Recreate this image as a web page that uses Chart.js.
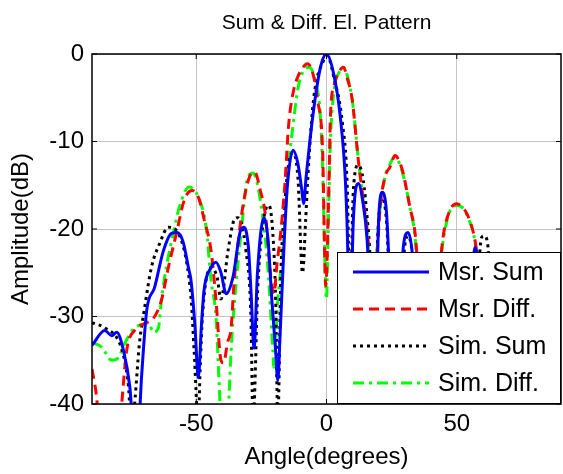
<!DOCTYPE html>
<html>
<head>
<meta charset="utf-8">
<script src="https://cdn.jsdelivr.net/npm/chart.js@4.4.1/dist/chart.umd.min.js"></script>
<style>
  html, body { margin: 0; padding: 0; background: #fff; }
  #wrap { width: 563px; height: 474px; }
</style>
</head>
<body>
<div id="wrap"><canvas id="myChart" width="563" height="474"></canvas></div>
<script>
// angle (deg) / amplitude (dB), one pair of arrays per trace
const msrSumAng = [-90, -85.1, -82.4, -80.5, -77.9, -75.5, -74, -72, -71, -69, -66, -62.6, -59.5, -57.3, -55, -53, -52, -50.5, -49.2, -48, -47, -44.3, -42.4, -40.5, -38.5, -35.9, -32.8, -31.7, -30, -29, -27.8, -26.5, -24, -22.5, -21, -19.5, -18.7, -17.8, -16.4, -15, -12.8, -11, -9.5, -8.8, -7.8, -5.3, -2.3, 0, 2.7, 5.3, 7.3, 8.2, 8.8, 10.3, 12.2, 14, 15.6, 17, 18.5, 20, 21.4, 23, 24.5, 26, 28, 29.5, 31.3, 33, 35, 45, 55, 56.9, 59, 62, 70, 80, 90];
const msrSumDb  = [-33.3, -31.6, -32.2, -31.8, -33.9, -38, -43, -42, -37, -29.3, -26.7, -22.5, -20.5, -20.4, -21.5, -24.4, -25.9, -31, -37, -31, -27, -24.4, -23.8, -25, -27.4, -25.5, -20, -19.8, -22, -27, -33.6, -25, -18.7, -21, -28, -34, -37.3, -32, -22.5, -15, -11, -12.5, -15.5, -17.1, -14, -7.2, -1.5, 0, -2.2, -7.2, -14.8, -23, -35, -19, -14.8, -17, -21.3, -30, -35, -19, -15.8, -18, -27, -33, -30, -22, -20.4, -23, -33, -35, -30, -22.1, -25, -35, -30, -32, -30];

const msrDiffAng = [-90, -88, -87, -80, -78.6, -76.7, -73.7, -69.8, -66.4, -63.4, -60.7, -57.6, -54.6, -51.5, -49, -46.9, -44.3, -42.4, -40.5, -39.5, -38, -36.6, -35.5, -33.5, -31.7, -29.5, -27.5, -25.5, -23.3, -21.4, -20.2, -19, -17.6, -16, -14.5, -12.5, -11, -9, -7.3, -5, -3.4, -1.5, -0.3, 1, 1.5, 3, 5.3, 6.5, 8, 9.9, 12.2, 14.1, 16, 17.5, 19, 20.6, 22.5, 24.4, 26.3, 28, 29.4, 32, 34, 36, 40, 43, 44.7, 47.3, 50, 52, 53.8, 57, 60, 70, 80, 90];
const msrDiffDb  = [-36, -40, -45, -45, -40, -33.9, -31.6, -30.8, -30.2, -28.2, -24.4, -20.5, -16.7, -15.6, -16.5, -19, -22.5, -28.2, -35, -35.3, -33, -31.3, -26.2, -20.5, -16.7, -14, -13.5, -15.5, -18.7, -25.5, -27.4, -24, -20.5, -15, -8, -4, -2.6, -1.5, -1.1, -2.5, -5.3, -11, -26.5, -14, -7.2, -3.5, -1.8, -1.5, -2.8, -5.3, -12.1, -16.7, -21.6, -30, -25, -17.5, -14, -12.9, -11.6, -12.3, -13.6, -17.5, -20.5, -28, -33, -26, -21, -17.9, -17.1, -17.5, -18.2, -21.3, -28, -32, -30, -33];

const simSumAng = [-90, -85, -79.8, -77.5, -76, -75, -74, -71.8, -69.8, -67.2, -64.1, -60.7, -56.9, -53.8, -51.9, -50.8, -49.2, -48.5, -47.5, -44.3, -42, -40.5, -37.8, -35.5, -34, -30.9, -29, -28.2, -26.3, -24, -22.1, -20.6, -19.5, -18.7, -17.5, -16.4, -14.5, -13, -11, -9.2, -8, -7.3, -5, -1.1, 0, 1, 2.7, 6.1, 8, 8.4, 9, 10.3, 12.2, 14.1, 15.6, 16.5, 18, 20, 21.4, 23, 25, 28, 30, 31.3, 33, 35, 45, 57, 59.5, 60.5, 61.8, 64, 75, 90];
const simSumDb  = [-30.7, -31.3, -32.8, -35, -38, -42, -41, -33.1, -29, -24.4, -21.7, -19.8, -20.5, -23.6, -28.2, -33.9, -42, -36, -29.5, -24.4, -25.5, -28, -22.5, -19, -18.7, -22.5, -30.1, -42, -26.2, -18.7, -17.3, -20.5, -28.2, -42, -25, -18.7, -12.5, -11.3, -14, -25, -19, -14.8, -5.3, -0.7, -0.2, -0.5, -2.5, -7.9, -15.6, -21.3, -30, -15.6, -12.7, -14.4, -18.7, -22, -32, -19, -16.4, -19, -30, -30, -22, -20.8, -23, -32, -34, -30, -21, -20.8, -21.6, -30, -33, -31];

const simDiffAng = [-90, -88.9, -86.3, -82.4, -79.8, -77.5, -74, -71.8, -68.3, -66.4, -64.5, -63.4, -61.5, -58.8, -56.5, -52.7, -49, -46.2, -44.3, -42.4, -41.2, -40, -38, -37.5, -36.6, -34.7, -32.8, -30.2, -28.2, -25.2, -22.5, -20.6, -20.2, -18.7, -16.8, -15.5, -14.3, -13, -11, -9, -6.5, -4, -2.5, -1.5, -0.5, 0, 0.5, 1.5, 3, 5, 6.5, 8, 10, 12.2, 14, 16, 17.5, 19, 20.6, 22.5, 24.5, 26, 28, 30, 32, 34, 36, 40, 44.7, 47.3, 50, 52, 54, 57, 60, 70, 80, 90];
const simDiffDb  = [-33, -33.1, -33.5, -35, -34.7, -33.1, -31.4, -31, -30.8, -31.8, -31.3, -28.2, -24.4, -20.5, -17.5, -15.2, -16.5, -19.8, -25.9, -30.1, -37.7, -45, -45, -40, -33.9, -26.2, -20.5, -14.1, -13.6, -17.1, -24.4, -33.9, -35.8, -28.2, -22.5, -17, -12, -8.5, -4, -2, -1.5, -3.5, -6.5, -12.9, -25, -28, -22, -10, -4, -2, -1.5, -2.5, -5.5, -12, -16.5, -21.5, -32, -24, -17.5, -14, -12.5, -11.8, -12.5, -14.5, -17.5, -21, -30, -34, -21.5, -18, -17.3, -17.5, -18.5, -21.5, -30, -33, -31, -32];

const xTicks = [-50, 0, 50];
const seriesNames = ['Msr. Sum', 'Msr. Diff.', 'Sim. Sum', 'Sim. Diff.'];
const chartTitle = 'Sum & Diff. El. Pattern';

const FONT = "'Liberation Sans', Arial, sans-serif";

function pts(a, d) { return a.map((v, i) => ({ x: v, y: d[i] })) }

const styles = [
    { color: '#0000ff', dash: [] },
    { color: '#ff0000', dash: [10, 6] },
    { color: '#000000', dash: [3, 4] },
    { color: '#00ff00', dash: [11, 5, 3, 5] }
];
const allData = [pts(msrSumAng, msrSumDb), pts(msrDiffAng, msrDiffDb), pts(simSumAng, simSumDb), pts(simDiffAng, simDiffDb)];

// matlab style: title over the axes, box with inward ticks, legend inside the axes
const boxLegend = {
    id: 'boxLegend',
    afterDraw(chart) {
        const c = chart.ctx, a = chart.chartArea;
        const sx = chart.scales.x, sy = chart.scales.y;
        c.save();
        c.fillStyle = '#000';
        c.font = '21px ' + FONT;
        c.textAlign = 'center';
        c.textBaseline = 'middle';
        c.fillText(chartTitle, (a.left + a.right) / 2, 23);

        c.strokeStyle = '#000';
        c.lineWidth = 1.5;
        c.strokeRect(a.left, a.top, a.right - a.left, a.bottom - a.top);
        c.lineWidth = 1;
        c.beginPath();
        sx.ticks.forEach(t => {
            const px = sx.getPixelForValue(t.value);
            c.moveTo(px, a.bottom); c.lineTo(px, a.bottom - 5);
            c.moveTo(px, a.top); c.lineTo(px, a.top + 5);
        });
        sy.ticks.forEach(t => {
            const py = sy.getPixelForValue(t.value);
            c.moveTo(a.left, py); c.lineTo(a.left + 5, py);
            c.moveTo(a.right, py); c.lineTo(a.right - 5, py);
        });
        c.stroke();

        const w = 224, h = 152;
        const lx = a.right - w, ly = a.bottom - h;
        c.fillStyle = '#fff';
        c.fillRect(lx, ly, w, h);
        c.lineWidth = 1;
        c.strokeRect(lx + 0.5, ly + 0.5, w - 1, h - 1);
        c.font = '25px ' + FONT;
        c.textAlign = 'left';
        seriesNames.forEach((name, i) => {
            const y = ly + 20 + i * 37;
            c.beginPath();
            c.strokeStyle = styles[i].color;
            c.lineWidth = 3;
            c.setLineDash(styles[i].dash);
            c.moveTo(lx + 16, y);
            c.lineTo(lx + 92, y);
            c.stroke();
            c.setLineDash([]);
            c.fillStyle = '#000';
            c.fillText(name, lx + 101, y + 1);
        });
        c.restore();
    }
};

const ctx = document.getElementById('myChart').getContext('2d');
const myChart = new Chart(ctx, {
    type: 'line',
    data: {
        datasets: allData.map((d, i) => ({
            label: seriesNames[i],
            data: d,
            borderColor: styles[i].color,
            borderDash: styles[i].dash,
            borderWidth: 3,
            pointRadius: 0,
            fill: false,
            cubicInterpolationMode: 'monotone'
        }))
    },
    options: {
        animation: false,
        responsive: false,
        layout: { padding: { left: 0, right: 2, top: 54, bottom: 0 } },
        plugins: {
            legend: { display: false },
            tooltip: { enabled: false },
            title: { display: false }
        },
        scales: {
            x: {
                type: 'linear',
                min: -90,
                max: 90,
                afterBuildTicks: s => { s.ticks = xTicks.map(v => ({ value: v })) },
                afterFit: s => { s.height = 70 },
                grid: { color: '#c4c4c4', drawTicks: false },
                border: { display: false },
                ticks: { font: { size: 24, family: FONT }, color: '#000', padding: 6 },
                title: { display: true, text: 'Angle(degrees)', font: { size: 24, family: FONT }, color: '#000', padding: { top: 0, bottom: 2 } }
            },
            y: {
                min: -40,
                max: 0,
                afterFit: s => { s.width = 92 },
                grid: { color: '#c4c4c4', drawTicks: false },
                border: { display: false },
                ticks: { stepSize: 10, font: { size: 24, family: FONT }, color: '#000', padding: 8 },
                title: { display: true, text: 'Amplitude(dB)', font: { size: 24, family: FONT }, color: '#000', padding: { top: 7, bottom: 0 } }
            }
        }
    },
    plugins: [boxLegend]
});
</script>
</body>
</html>
